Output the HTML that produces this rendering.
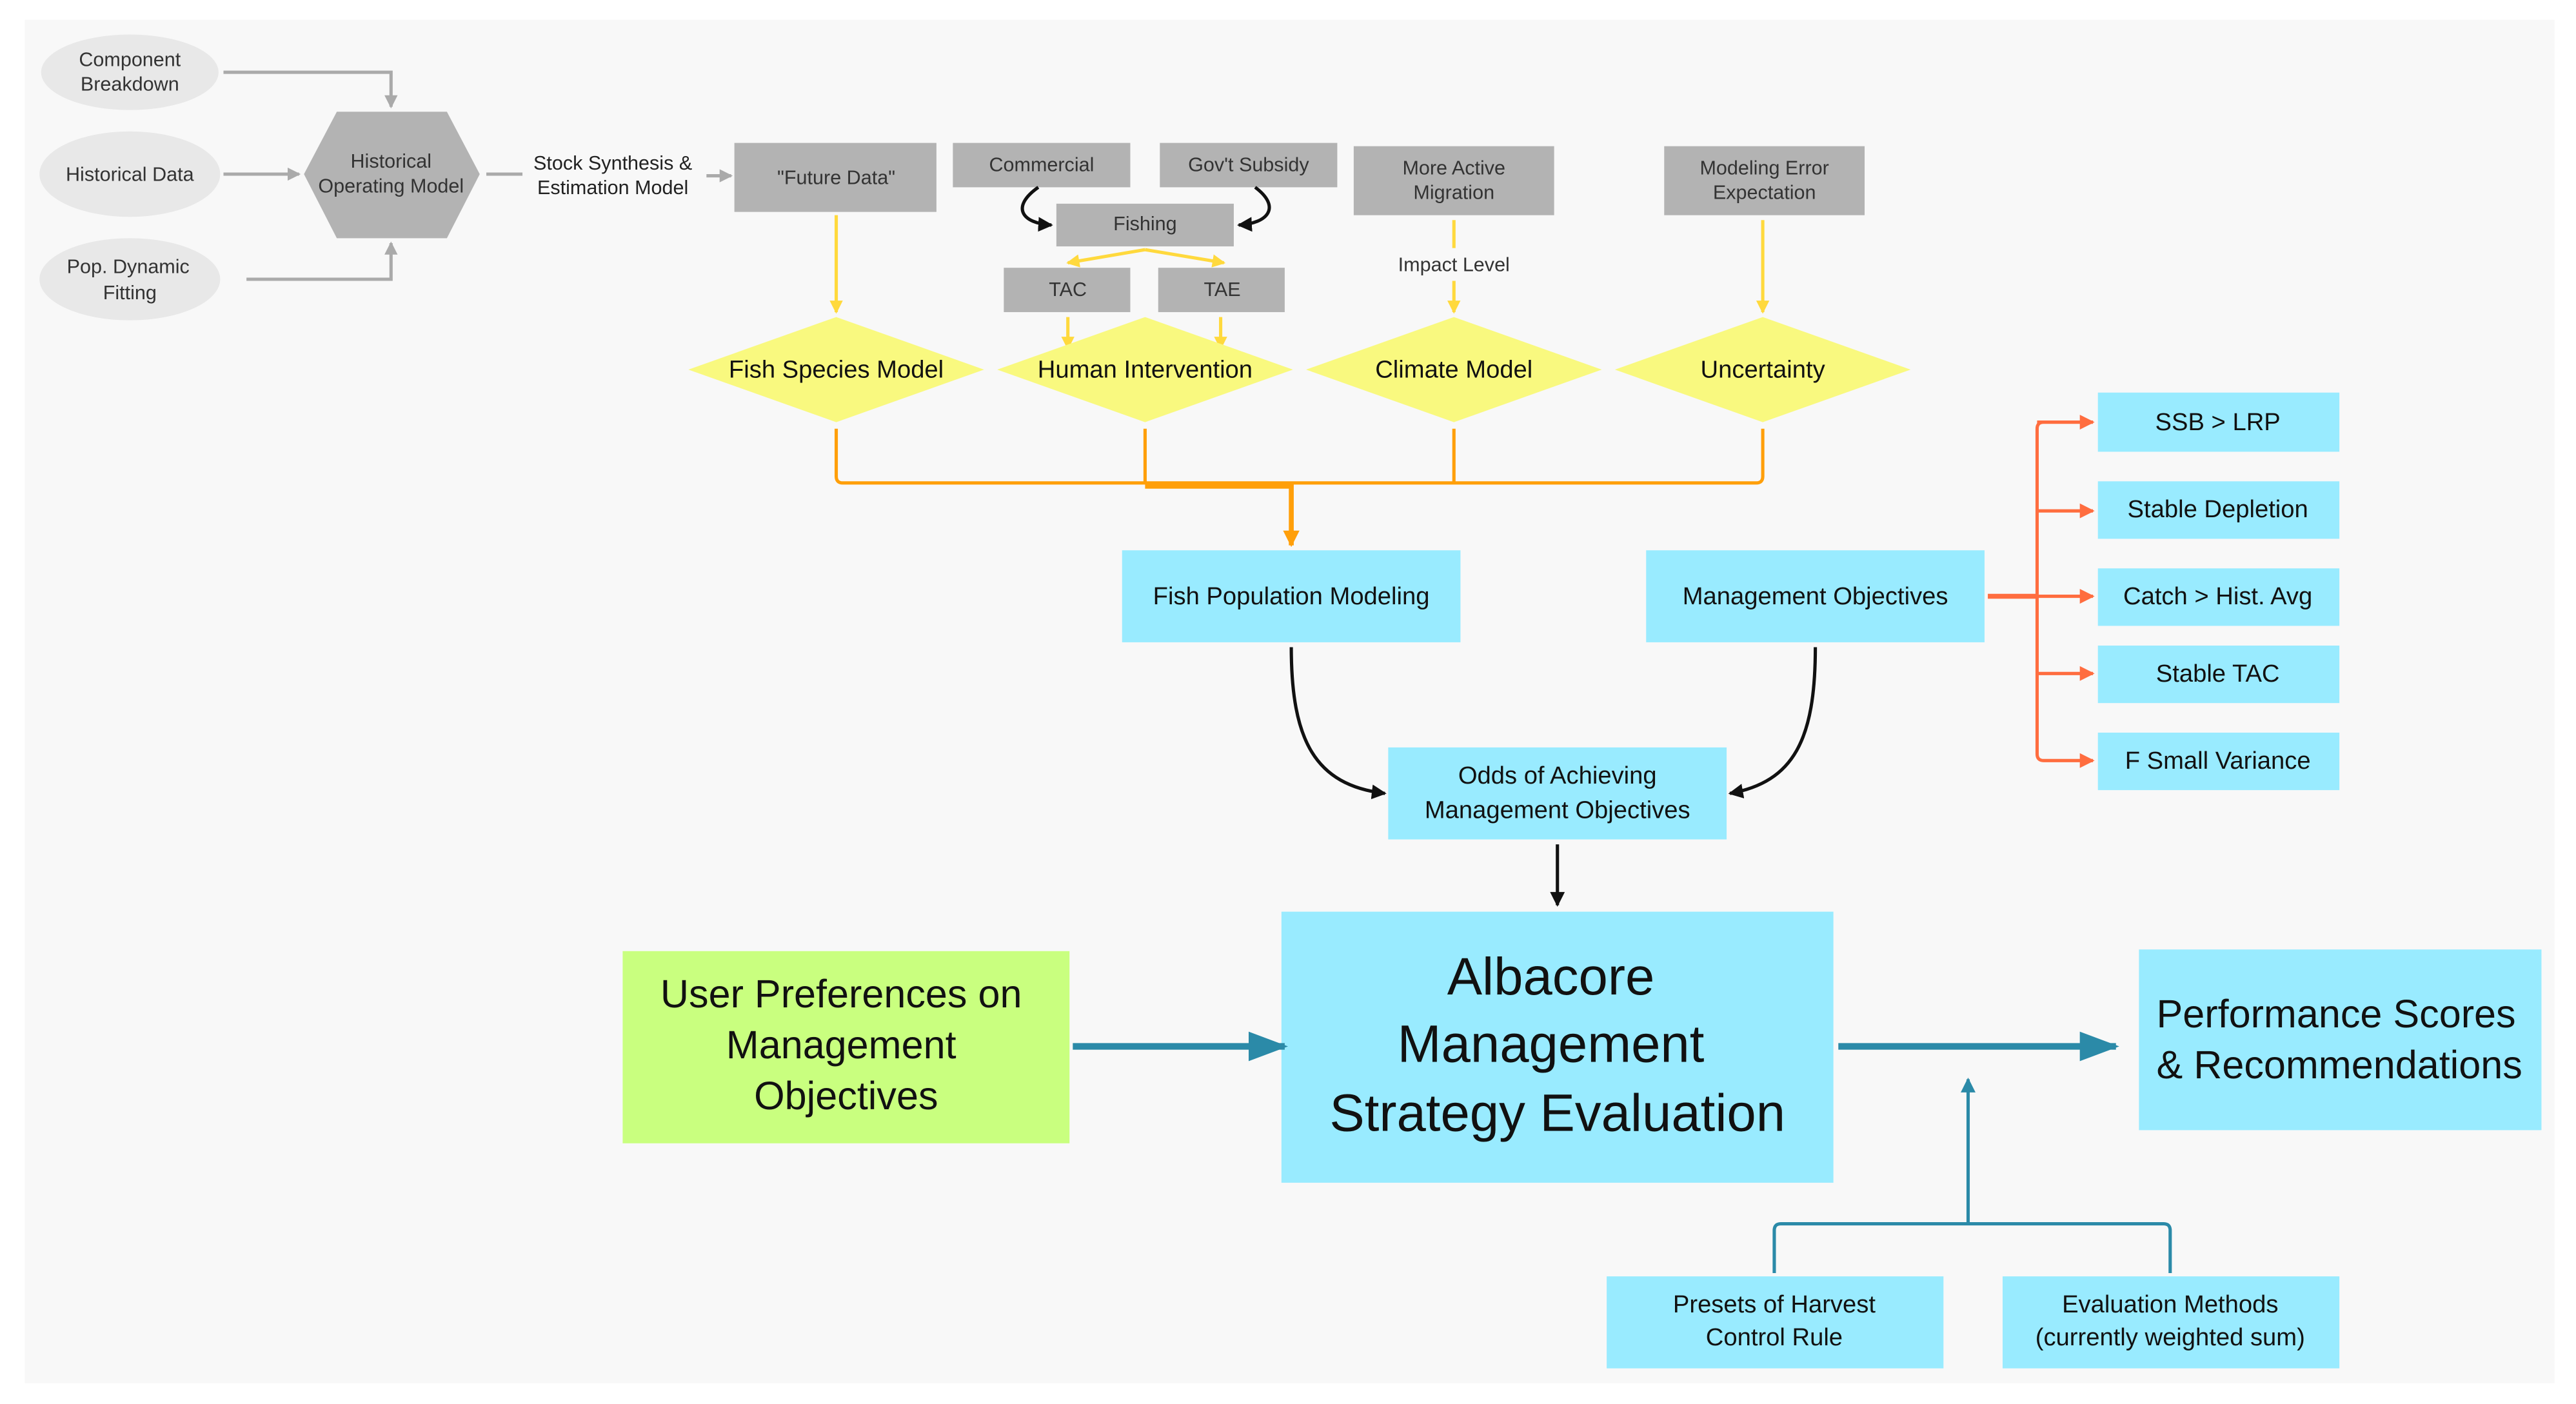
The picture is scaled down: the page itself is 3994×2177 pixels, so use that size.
<!DOCTYPE html>
<html><head><meta charset="utf-8"><style>
html,body{margin:0;padding:0;background:#fff;}
svg{display:block;}
text{font-family:"Liberation Sans",Arial,sans-serif;text-anchor:middle;dominant-baseline:middle;}
</style></head><body>
<svg width="3994" height="2177" viewBox="0 0 1568 854.7" xmlns="http://www.w3.org/2000/svg">
<defs>
<marker id="ag" markerWidth="8" markerHeight="8" refX="7" refY="4" orient="auto" markerUnits="userSpaceOnUse"><path d="M0,0 L8,4 L0,8 z" fill="#aaa"/></marker>
<marker id="ay" markerWidth="8" markerHeight="8" refX="7" refY="4" orient="auto" markerUnits="userSpaceOnUse"><path d="M0,0 L8,4 L0,8 z" fill="#ffd93d"/></marker>
<marker id="ao" markerWidth="10" markerHeight="10" refX="9" refY="5" orient="auto" markerUnits="userSpaceOnUse"><path d="M0,0 L10,5 L0,10 z" fill="#ff9f0a"/></marker>
<marker id="ar" markerWidth="9" markerHeight="9" refX="8" refY="4.5" orient="auto" markerUnits="userSpaceOnUse"><path d="M0,0 L9,4.5 L0,9 z" fill="#ff6d3f"/></marker>
<marker id="ab" markerWidth="9" markerHeight="9" refX="8" refY="4.5" orient="auto" markerUnits="userSpaceOnUse"><path d="M0,0 L9,4.5 L0,9 z" fill="#111"/></marker>
<marker id="at" markerWidth="24" markerHeight="18" refX="22" refY="9" orient="auto" markerUnits="userSpaceOnUse"><path d="M0,0 L24,9 L0,18 z" fill="#2b8aa8"/></marker>
<marker id="at2" markerWidth="9" markerHeight="9" refX="8" refY="4.5" orient="auto" markerUnits="userSpaceOnUse"><path d="M0,0 L9,4.5 L0,9 z" fill="#2b8aa8"/></marker>
</defs>
<rect x="15" y="12" width="1540" height="830" fill="#f8f8f8"/>
<!-- gray inputs -->
<g fill="#e8e8e8"><ellipse cx="79" cy="44" rx="54" ry="23"/><ellipse cx="79" cy="106" rx="55" ry="26"/><ellipse cx="79" cy="170" rx="55" ry="25"/></g>
<g font-size="12" fill="#333"><text x="79" y="37">Component</text><text x="79" y="52">Breakdown</text><text x="79" y="107">Historical Data</text><text x="78" y="163">Pop. Dynamic</text><text x="79" y="179">Fitting</text></g>
<polygon points="185,106 205,68 272,68 292,106 272,145 205,145" fill="#b3b3b3"/>
<text x="238" y="99" font-size="12" fill="#333">Historical</text><text x="238" y="114" font-size="12" fill="#333">Operating Model</text>
<g stroke="#aaa" stroke-width="2" fill="none">
<path d="M136,44 H238 V65" marker-end="url(#ag)"/>
<path d="M136,106 H182" marker-end="url(#ag)"/>
<path d="M150,170 H238 V148" marker-end="url(#ag)"/>
<path d="M296,106 H318"/>
<path d="M430,107 H445" marker-end="url(#ag)"/>
</g>
<text x="373" y="100" font-size="12" fill="#222">Stock Synthesis &amp;</text><text x="373" y="115" font-size="12" fill="#222">Estimation Model</text>
<g fill="#b3b3b3">
<rect x="447" y="87" width="123" height="42"/><rect x="580" y="87" width="108" height="27"/><rect x="706" y="87" width="108" height="27"/>
<rect x="643" y="124" width="108" height="26"/><rect x="611" y="163" width="77" height="27"/><rect x="705" y="163" width="77" height="27"/>
<rect x="824" y="89" width="122" height="42"/><rect x="1013" y="89" width="122" height="42"/></g>
<g font-size="12" fill="#333">
<text x="509" y="109">"Future Data"</text><text x="634" y="101">Commercial</text><text x="760" y="101">Gov't Subsidy</text>
<text x="697" y="137">Fishing</text><text x="650" y="177">TAC</text><text x="744" y="177">TAE</text>
<text x="885" y="103">More Active</text><text x="885" y="118">Migration</text>
<text x="1074" y="103">Modeling Error</text><text x="1074" y="118">Expectation</text>
<text x="885" y="162">Impact Level</text></g>
<g stroke="#111" stroke-width="2" fill="none">
<path d="M632,114 C615,126 622,136 640,137" marker-end="url(#ab)"/>
<path d="M764,114 C780,126 772,136 754,137" marker-end="url(#ab)"/>
</g>
<g stroke="#ffd93d" stroke-width="2" fill="none">
<path d="M697,152 L650,160" marker-end="url(#ay)"/><path d="M697,152 L745,160" marker-end="url(#ay)"/>
<path d="M650,193 V212" marker-end="url(#ay)"/><path d="M743,193 V212" marker-end="url(#ay)"/>
<path d="M509,131 V190" marker-end="url(#ay)"/>
<path d="M885,134 V151"/><path d="M885,171 V190" marker-end="url(#ay)"/>
<path d="M1073,134 V190" marker-end="url(#ay)"/>
</g>
<g fill="#f9f97f">
<polygon points="419,225 509,193 599,225 509,257"/><polygon points="607,225 697,193 787,225 697,257"/>
<polygon points="795,225 885,193 975,225 885,257"/><polygon points="983,225 1073,193 1163,225 1073,257"/></g>
<g font-size="15" fill="#111"><text x="509" y="226">Fish Species Model</text><text x="697" y="226">Human Intervention</text><text x="885" y="226">Climate Model</text><text x="1073" y="226">Uncertainty</text></g>
<g stroke="#ff9f0a" stroke-width="2" fill="none">
<path d="M509,261 V290 Q509,294 513,294 H1069 Q1073,294 1073,290 V261"/>
<path d="M697,261 V294"/><path d="M885,261 V294"/>
<path d="M697,296 H786" stroke-width="3"/>
<path d="M786,294 V332" stroke-width="3" marker-end="url(#ao)"/>
</g>
<g fill="#99ebff">
<rect x="683" y="335" width="206" height="56"/><rect x="1002" y="335" width="206" height="56"/>
<rect x="1277" y="239" width="147" height="36"/><rect x="1277" y="293" width="147" height="35"/><rect x="1277" y="346" width="147" height="35"/>
<rect x="1277" y="393" width="147" height="35"/><rect x="1277" y="446" width="147" height="35"/>
<rect x="845" y="455" width="206" height="56"/><rect x="780" y="555" width="336" height="165"/>
<rect x="1302" y="578" width="245" height="110"/>
<rect x="978" y="777" width="205" height="56"/><rect x="1219" y="777" width="205" height="56"/></g>
<rect x="379" y="579" width="272" height="117" fill="#c9ff7f"/>
<g font-size="15" fill="#111">
<text x="786" y="364">Fish Population Modeling</text><text x="1105" y="364">Management Objectives</text>
<text x="1350" y="258">SSB &gt; LRP</text><text x="1350" y="311">Stable Depletion</text><text x="1350" y="364">Catch &gt; Hist. Avg</text>
<text x="1350" y="411">Stable TAC</text><text x="1350" y="464">F Small Variance</text>
<text x="948" y="473">Odds of Achieving</text><text x="948" y="494">Management Objectives</text>
<text x="1080" y="795">Presets of Harvest</text><text x="1080" y="815">Control Rule</text>
<text x="1321" y="795">Evaluation Methods</text><text x="1321" y="815">(currently weighted sum)</text></g>
<g font-size="32" fill="#111"><text x="944" y="597">Albacore</text><text x="944" y="638">Management</text><text x="948" y="680">Strategy Evaluation</text></g>
<g font-size="24" fill="#111"><text x="512" y="607">User Preferences on</text><text x="512" y="638">Management</text><text x="515" y="669">Objectives</text>
<text x="1422" y="619">Performance Scores</text><text x="1424" y="650">&amp; Recommendations</text></g>
<g stroke="#ff6d3f" stroke-width="2" fill="none">
<path d="M1210,363 H1240" stroke-width="3"/>
<path d="M1274,257 H1244 Q1240,257 1240,261 V459 Q1240,463 1244,463 H1274" marker-end="url(#ar)"/>
<path d="M1240,257 H1274" marker-end="url(#ar)"/><path d="M1240,311 H1274" marker-end="url(#ar)"/>
<path d="M1240,363 H1274" marker-end="url(#ar)"/><path d="M1240,410 H1274" marker-end="url(#ar)"/>
</g>
<g stroke="#111" stroke-width="2" fill="none">
<path d="M786,394 C786,450 800,478 843,483" marker-end="url(#ab)"/>
<path d="M1105,394 C1105,450 1092,476 1053,483" marker-end="url(#ab)"/>
<path d="M948,514 V551" marker-end="url(#ab)"/>
</g>
<g stroke="#2b8aa8" fill="none">
<path d="M653,637 H782" stroke-width="4" marker-end="url(#at)"/>
<path d="M1119,637 H1288" stroke-width="4" marker-end="url(#at)"/>
<path d="M1080,775 V749 Q1080,745 1084,745 H1317 Q1321,745 1321,749 V775" stroke-width="2"/>
<path d="M1198,745 V657" stroke-width="2" marker-end="url(#at2)"/>
</g>
</svg>
</body></html>
